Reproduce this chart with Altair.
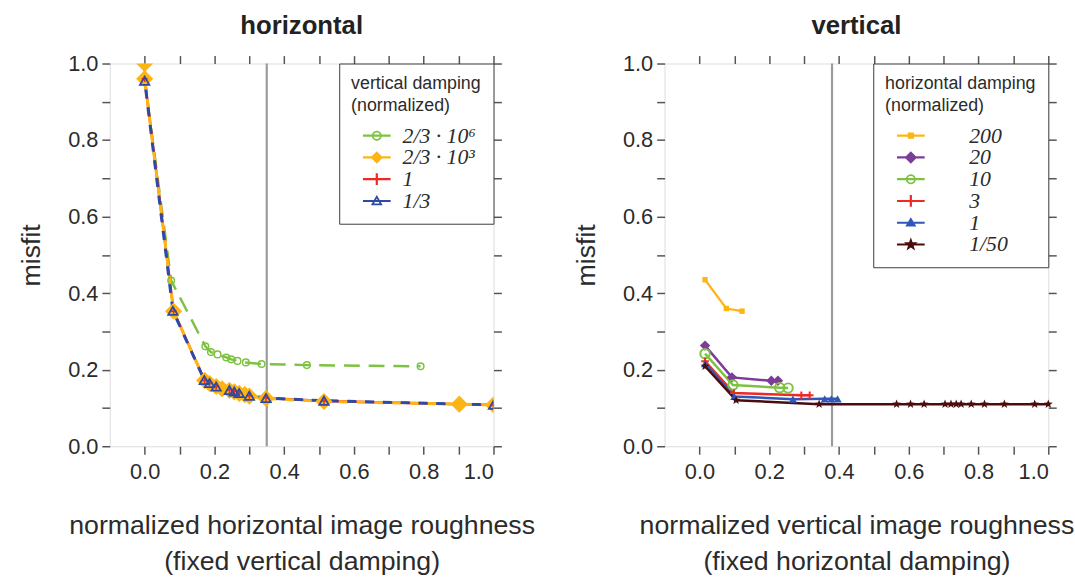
import math
import altair as alt
import pandas as pd

# ---------------- data: left panel ("horizontal") ----------------
H_LABELS = ["2/3 · 10⁶", "2/3 · 10³", "1", "1/3"]
H_G_X = [0.0, 0.076, 0.174, 0.190, 0.209, 0.234, 0.248, 0.266, 0.290, 0.335, 0.465, 0.791]
H_G_Y = [0.96, 0.433, 0.261, 0.246, 0.240, 0.232, 0.227, 0.223, 0.219, 0.215, 0.212, 0.209]
H_O_X = [0.0, 0.0, 0.083, 0.172, 0.186, 0.205, 0.222, 0.243, 0.257, 0.271, 0.287, 0.300, 0.348, 0.514, 0.902, 1.0]
H_O_Y = [1.0, 0.96, 0.353, 0.172, 0.164, 0.156, 0.150, 0.146, 0.142, 0.138, 0.135, 0.131, 0.125, 0.117, 0.110, 0.108]
H_R_X = [0.0, 0.083, 0.172, 0.186, 0.205, 0.243, 0.257, 0.271, 0.300, 0.348, 0.514, 1.0]
H_R_Y = [0.96, 0.353, 0.172, 0.165, 0.156, 0.147, 0.143, 0.139, 0.132, 0.126, 0.118, 0.108]
H_B_X = [0.0, 0.081, 0.171, 0.186, 0.205, 0.243, 0.257, 0.271, 0.300, 0.348, 0.514, 1.0]
H_B_Y = [0.955, 0.354, 0.173, 0.165, 0.156, 0.147, 0.143, 0.139, 0.132, 0.126, 0.119, 0.108]
H_CUT = 0.35

# ---------------- data: right panel ("vertical") ----------------
V_LABELS = ["200", "20", "10", "3", "1", "1/50"]
V_OR_X = [0.016, 0.077, 0.122]
V_OR_Y = [0.435, 0.360, 0.353]
V_PU_X = [0.016, 0.093, 0.206, 0.225]
V_PU_Y = [0.263, 0.180, 0.171, 0.171]
V_GR_X = [0.016, 0.096, 0.230, 0.254]
V_GR_Y = [0.242, 0.160, 0.153, 0.152]
V_RE_X = [0.016, 0.099, 0.292, 0.316]
V_RE_Y = [0.222, 0.139, 0.133, 0.133]
V_BL_X = [0.016, 0.100, 0.268, 0.359, 0.378, 0.396]
V_BL_Y = [0.216, 0.130, 0.123, 0.124, 0.124, 0.124]
V_BR_X = [0.016, 0.105, 0.343, 0.565, 0.605, 0.644, 0.704, 0.721, 0.736, 0.750, 0.779, 0.817, 0.874, 0.961, 1.0]
V_BR_Y = [0.209, 0.120, 0.110, 0.110, 0.110, 0.110, 0.110, 0.110, 0.110, 0.110, 0.110, 0.110, 0.110, 0.110, 0.110]
V_CUT = 0.38

TICKS = [0.0, 0.1, 0.2, 0.3, 0.4, 0.5, 0.6, 0.7, 0.8, 0.9, 1.0]

# ---------------- styling ----------------
GREEN = "#7dc242"
ORANGE = "#fdb515"
RED = "#ee2a24"
BLUE = "#2d4aa4"
BLUE2 = "#3157b8"
PURPLE = "#7d3c98"
BROWN = "#4a0d0d"
FONT = "Liberation Sans"
TXT = "#2b2b2b"
PLUS = "M0,-1L0,1M-1,0L1,0"


def poly(points):
    return "M" + "L".join(f"{x:.3f},{y:.3f}" for x, y in points) + "Z"


def stub(extra):
    return poly([(-1, -0.16), (3, -0.16), (3, 0.16), (-1, 0.16)]) + extra


def circle_pts(r, n=20, rev=False):
    pts = [(1 + r * math.cos(2 * math.pi * k / n), r * math.sin(2 * math.pi * k / n)) for k in range(n)]
    return pts[::-1] if rev else pts


def ring(r_out, r_in):
    return poly(circle_pts(r_out)) + poly(circle_pts(r_in, rev=True))


def star(ro, ri, cx=1.0):
    pts = []
    for k in range(10):
        a = math.radians(-90 + 36 * k)
        r = ro if k % 2 == 0 else ri
        pts.append((cx + r * math.cos(a), r * math.sin(a)))
    return poly(pts)


STAR = star(1.0, 0.42, cx=0.0)
P_RING = stub(ring(0.72, 0.48))
P_DIAM = stub(poly([(1, -0.9), (1.9, 0), (1, 0.9), (0.1, 0)]))
P_PLUS = stub(poly([(0.84, -0.85), (1.16, -0.85), (1.16, 0.85), (0.84, 0.85)]))
P_TRI_OPEN = stub(poly([(1, -0.85), (1.85, 0.6), (0.15, 0.6)]) + poly([(1, -0.35), (0.6, 0.35), (1.4, 0.35)]))
P_TRI = stub(poly([(1, -0.8), (1.8, 0.55), (0.2, 0.55)]))
P_SQ = stub(poly([(0.55, -0.45), (1.45, -0.45), (1.45, 0.45), (0.55, 0.45)]))
P_STAR = stub(star(1.05, 0.42))

H_STYLE = [
    dict(color=GREEN, lw=2.5, dash=[16, 9], shape="circle", filled=False, size=45, sw=1.5),
    dict(color=ORANGE, lw=3, dash=[9, 9], shape="diamond", filled=True, size=300, sw=1),
    dict(color=RED, lw=2.5, dash=None, shape=PLUS, filled=False, size=40, sw=1.5),
    dict(color=BLUE, lw=3, dash=[9, 9], dashoff=9, shape="triangle-up", filled=False, size=90, sw=1.8),
]
H_PATHS = [P_RING, P_DIAM, P_PLUS, P_TRI_OPEN]
H_LINE_ORDER = [0, 2, 1, 3]

V_STYLE = [
    dict(color=ORANGE, lw=2.2, dash=None, shape="square", filled=True, size=30, sw=1),
    dict(color=PURPLE, lw=2.5, dash=None, shape="diamond", filled=True, size=110, sw=1),
    dict(color=GREEN, lw=2.5, dash=None, shape="circle", filled=False, size=90, sw=2),
    dict(color=RED, lw=2.5, dash=None, shape=PLUS, filled=False, size=60, sw=2),
    dict(color=BLUE2, lw=2.5, dash=None, shape="triangle-up", filled=True, size=70, sw=1),
    dict(color=BROWN, lw=2.5, dash=None, shape=STAR, filled=True, size=90, sw=1),
]
V_PATHS = [P_SQ, P_DIAM, P_RING, P_PLUS, P_TRI, P_STAR]
V_LINE_ORDER = [0, 1, 2, 3, 4, 5]


def make_df(labels, xs, ys):
    rows = []
    for lab, xx, yy in zip(labels, xs, ys):
        for i, (a, b) in enumerate(zip(xx, yy)):
            rows.append({"s": lab, "x": a, "y": b, "i": i})
    return pd.DataFrame(rows)


LBL = "round(datum.value*10) % 2 == 0 ? format(datum.value, '.1f') : ''"
AX_COMMON = dict(values=TICKS, tickSize=8, tickWidth=1.5, tickColor="#555555", domain=False, grid=False,
                 labelFont=FONT, labelFontSize=22, labelColor=TXT,
                 titleFont=FONT, titleFontSize=27, titleFontWeight="normal", titleColor=TXT)


def panel(df, labels, styles, paths, order, cut, title, xtitle, leg_title, lab_offset, clip):
    xsc = alt.Scale(domain=[-0.1, 1.0], nice=False, zero=False)
    ysc = alt.Scale(domain=[0.0, 1.0], nice=False, zero=False)
    ax_b = alt.Axis(orient="bottom", labelExpr=LBL, labelPadding=8, titlePadding=30, titleLineHeight=37, **AX_COMMON)
    ax_l = alt.Axis(orient="left", labelExpr=LBL, labelPadding=4, titlePadding=22, **AX_COMMON)
    ax_t = alt.Axis(orient="top", labels=False, title=None, **AX_COMMON)
    ax_r = alt.Axis(orient="right", labels=False, title=None, **AX_COMMON)

    layers = [
        alt.Chart(pd.DataFrame({"c": [cut]})).mark_rule(color="#9b9b9b", strokeWidth=2.2).encode(
            x=alt.X("c:Q", scale=xsc, axis=None))
    ]
    first = True
    for k in order:
        lab, st = labels[k], styles[k]
        kw = dict(color=st["color"], strokeWidth=st["lw"], opacity=1)
        if st["dash"]:
            kw["strokeDash"] = st["dash"]
        if st.get("dashoff"):
            kw["strokeDashOffset"] = st["dashoff"]
        enc = dict(
            x=alt.X("x:Q", scale=xsc, axis=ax_b if first else None, title=xtitle),
            y=alt.Y("y:Q", scale=ysc, axis=ax_l if first else None, title="misfit"),
            order=alt.Order("i:Q"),
        )
        first = False
        layers.append(alt.Chart(df).transform_filter(alt.FieldEqualPredicate(field="s", equal=lab))
                      .mark_line(**kw).encode(**enc))
    for lab, st in zip(labels, styles):
        layers.append(
            alt.Chart(df).transform_filter(alt.FieldEqualPredicate(field="s", equal=lab))
            .mark_point(shape=st["shape"], filled=st["filled"], size=st["size"], color=st["color"],
                        strokeWidth=st["sw"], opacity=1, clip=clip)
            .encode(x=alt.X("x:Q", scale=xsc, axis=None), y=alt.Y("y:Q", scale=ysc, axis=None))
        )
    leg = alt.Legend(
        title=leg_title, orient="top-right", offset=0, padding=12, cornerRadius=0,
        strokeColor="#3c3c3c", fillColor="white",
        titleFont=FONT, titleFontSize=18, titleFontWeight="normal", titleColor=TXT,
        titleLineHeight=22, titlePadding=10,
        labelFont="Liberation Serif", labelFontStyle="italic", labelFontSize=22, labelColor=TXT,
        labelOffset=lab_offset, symbolSize=196, symbolOffset=8, rowPadding=0, symbolOpacity=1,
    )
    layers.append(
        alt.Chart(df).transform_filter("false").mark_point(filled=True, opacity=1).encode(
            x=alt.X("x:Q", scale=xsc, axis=ax_t),
            y=alt.Y("y:Q", scale=ysc, axis=ax_r),
            color=alt.Color("s:N", scale=alt.Scale(domain=labels, range=[s["color"] for s in styles]), legend=leg),
            shape=alt.Shape("s:N", scale=alt.Scale(domain=labels, range=paths), legend=leg),
        )
    )
    return alt.layer(*layers).resolve_axis(x="independent", y="independent").properties(
        width=388, height=387,
        title=alt.Title(title, fontSize=26, fontWeight="bold", font=FONT, color="#222222", offset=14),
    )


left = panel(make_df(H_LABELS, [H_G_X, H_O_X, H_R_X, H_B_X], [H_G_Y, H_O_Y, H_R_Y, H_B_Y]),
             H_LABELS, H_STYLE, H_PATHS, H_LINE_ORDER, H_CUT, "horizontal",
             ["normalized horizontal image roughness", "(fixed vertical damping)"],
             ["vertical damping", "(normalized)"], 22, True)
right = panel(make_df(V_LABELS, [V_OR_X, V_PU_X, V_GR_X, V_RE_X, V_BL_X, V_BR_X],
                      [V_OR_Y, V_PU_Y, V_GR_Y, V_RE_Y, V_BL_Y, V_BR_Y]),
              V_LABELS, V_STYLE, V_PATHS, V_LINE_ORDER, V_CUT, "vertical",
              ["normalized vertical image roughness", "(fixed horizontal damping)"],
              ["horizontal damping", "(normalized)"], 55, False)

chart = alt.hconcat(left, right, spacing=36).resolve_scale(
    color="independent", shape="independent", x="independent", y="independent"
).resolve_legend(color="independent", shape="independent").properties(
    padding={"left": 17, "top": 9, "right": 0, "bottom": 0}
).configure_view(stroke="#3c3c3c", strokeWidth=2).configure_legend(strokeWidth=1.5).configure(background="white")

chart.save("out.html", embed_options={"renderer": "svg", "actions": False})
